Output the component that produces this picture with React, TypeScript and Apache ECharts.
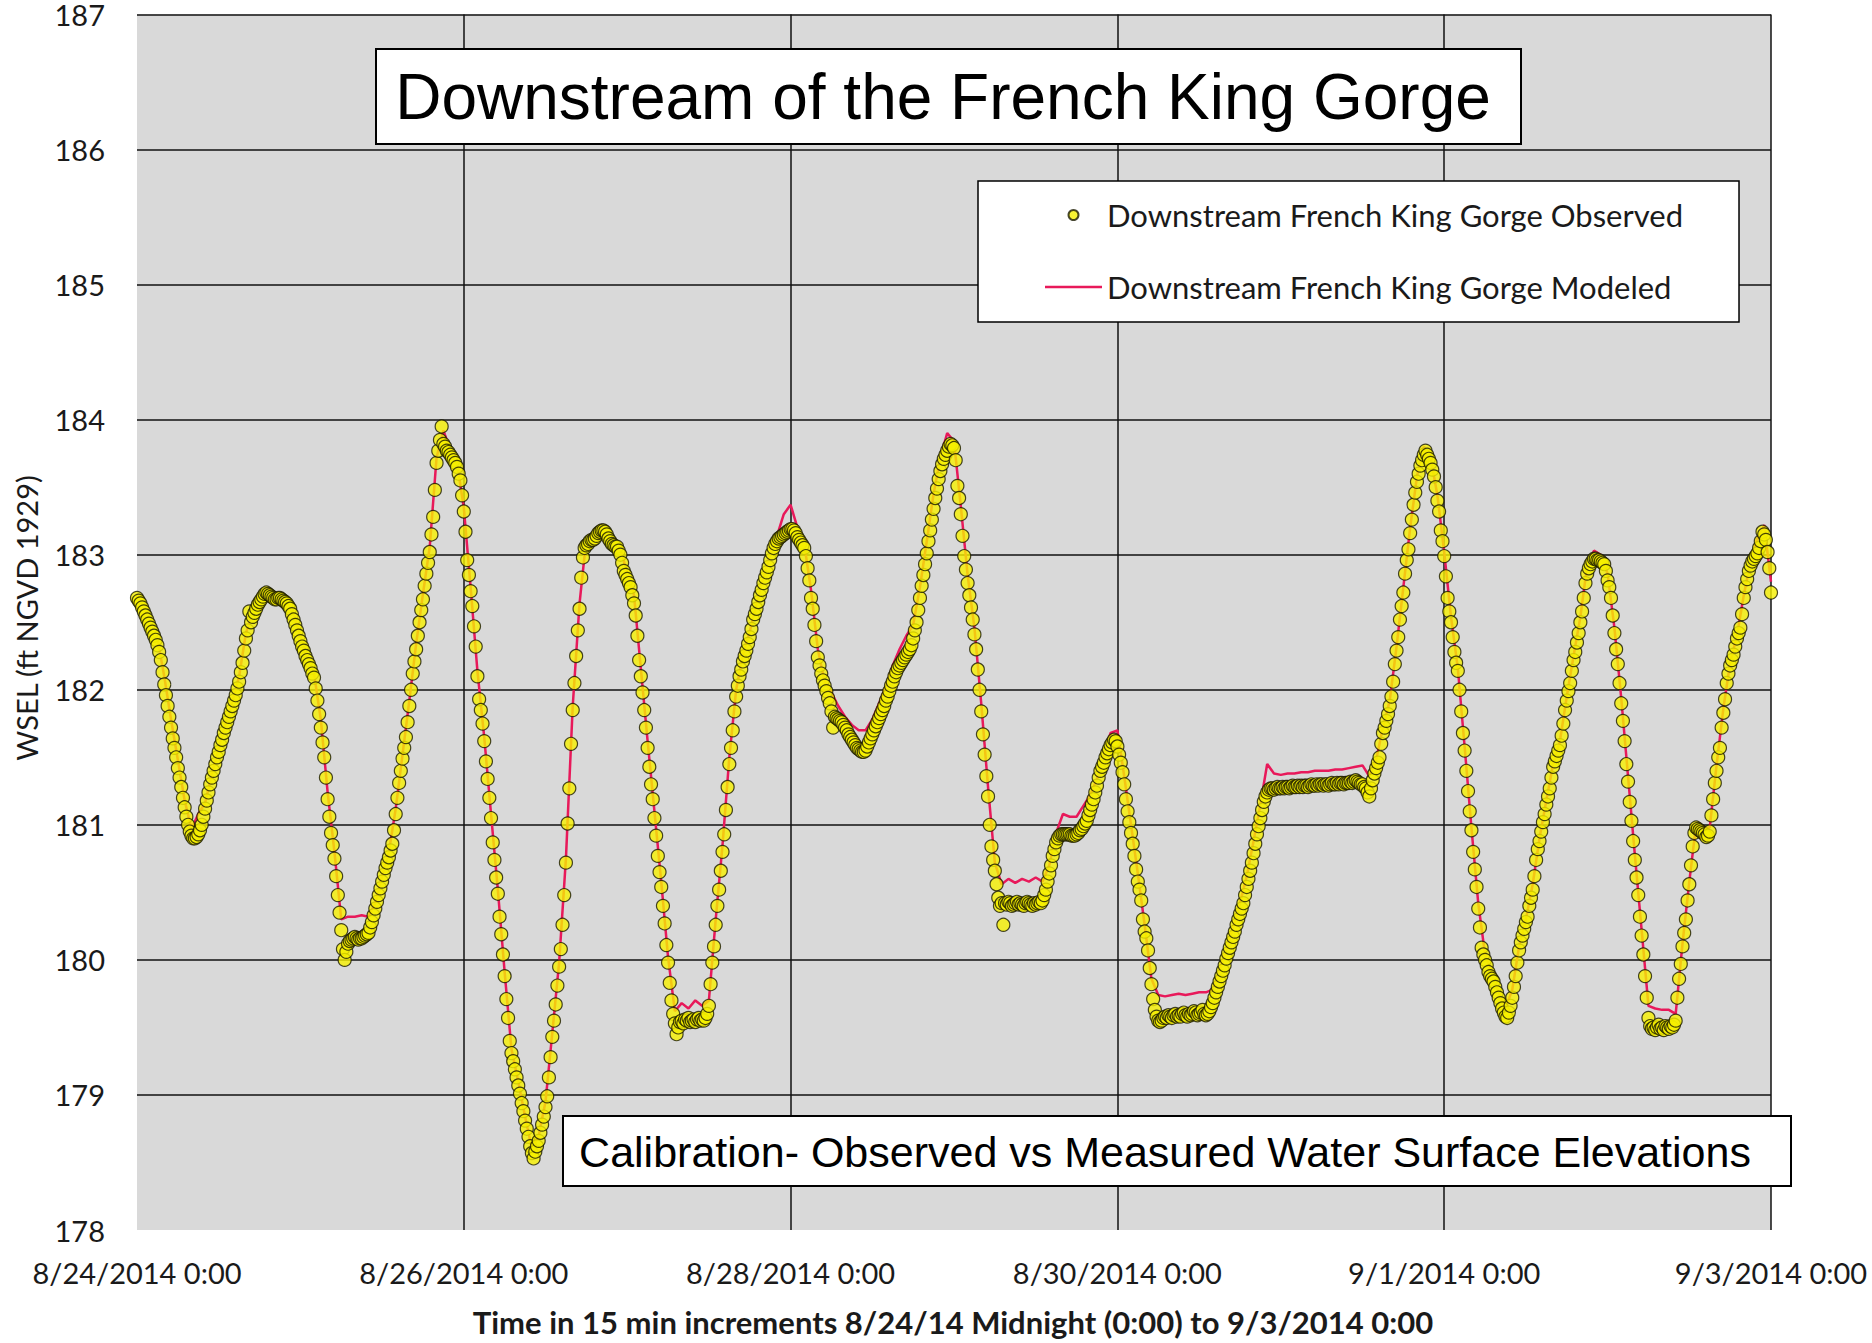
import React, { useEffect, useRef } from "react";
import * as echarts from "echarts";

// Time axis: hours since 8/24/2014 0:00
const OBS_STEP_HOURS = 0.25; // 15-minute observations
const MOD_STEP_HOURS = 1;
const X_MAX_HOURS = 240;
const X_TICK_HOURS = 48;

const xTickLabels = [
  "8/24/2014 0:00",
  "8/26/2014 0:00",
  "8/28/2014 0:00",
  "8/30/2014 0:00",
  "9/1/2014 0:00",
  "9/3/2014 0:00",
];

const chartTitle = "Downstream of the French King Gorge";
const chartSubtitle = "Calibration- Observed vs Measured Water Surface Elevations";
const xAxisTitle = "Time in 15 min increments 8/24/14 Midnight (0:00) to 9/3/2014 0:00";
const yAxisTitle = "WSEL (ft NGVD 1929)";
const observedName = "Downstream French King Gorge Observed";
const modeledName = "Downstream French King Gorge Modeled";

// Observed WSEL every 15 minutes, 8/24 0:00 .. 9/3 0:00 (one row per hour)
const observedWSEL = [
  182.68,182.66,182.64,182.61, 182.58,182.55,182.52,182.49, 182.46,182.43,182.40,182.37, 182.33,182.28,182.22,182.13,
  182.04,181.96,181.88,181.80, 181.72,181.64,181.57,181.50, 181.42,181.35,181.28,181.20, 181.13,181.06,181.00,180.95,
  180.92,180.90,180.90,180.91, 180.93,180.96,181.00,181.06, 181.12,181.18,181.24,181.30, 181.35,181.40,181.45,181.50,
  181.54,181.59,181.63,181.68, 181.72,181.76,181.80,181.84, 181.88,181.92,181.96,182.01, 182.06,182.13,182.20,182.29,
  182.38,182.44,182.58,182.50, 182.54,182.57,182.60,182.63, 182.65,182.67,182.69,182.71, 182.72,182.71,182.70,182.69,
  182.68,182.67,182.67,182.68, 182.68,182.67,182.66,182.65, 182.64,182.62,182.60,182.56, 182.52,182.48,182.44,182.40,
  182.36,182.32,182.29,182.25, 182.22,182.19,182.16,182.12, 182.09,182.01,181.92,181.82, 181.72,181.61,181.50,181.35,
  181.19,181.06,180.94,180.85, 180.75,180.62,180.48,180.35, 180.22,180.08,180.00,180.06, 180.12,180.14,180.15,180.16,
  180.17,180.16,180.15,180.16, 180.16,180.17,180.18,180.19, 180.20,180.24,180.28,180.33, 180.38,180.43,180.48,180.53,
  180.58,180.63,180.68,180.72, 180.76,180.81,180.86,180.96, 181.08,181.20,181.31,181.40, 181.49,181.57,181.65,181.76,
  181.88,182.00,182.12,182.21, 182.30,182.40,182.50,182.59, 182.67,182.77,182.86,182.94, 183.02,183.15,183.28,183.48,
  183.68,183.77,183.85,183.95, 183.82,183.80,183.77,183.76, 183.74,183.72,183.70,183.68, 183.65,183.60,183.55,183.44,
  183.32,183.17,182.96,182.85, 182.73,182.62,182.47,182.32, 182.10,181.93,181.85,181.75, 181.62,181.47,181.34,181.20,
  181.05,180.87,180.74,180.61, 180.49,180.32,180.19,180.04, 179.88,179.71,179.57,179.40, 179.31,179.25,179.19,179.13,
  179.07,179.01,178.94,178.88, 178.81,178.75,178.69,178.62, 178.57,178.53,178.58,178.62, 178.66,178.72,178.78,178.84,
  178.91,178.99,179.13,179.28, 179.43,179.55,179.67,179.81, 179.95,180.08,180.26,180.48, 180.72,181.01,181.27,181.60,
  181.85,182.05,182.25,182.44, 182.60,182.83,182.98,183.05, 183.07,183.08,183.10,183.11, 183.11,183.12,183.14,183.16,
  183.17,183.18,183.18,183.17, 183.15,183.12,183.10,183.08, 183.07,183.06,183.06,183.03, 183.00,182.94,182.88,182.85,
  182.82,182.79,182.76,182.70, 182.64,182.55,182.40,182.22, 182.10,181.98,181.85,181.72, 181.57,181.43,181.30,181.19,
  181.05,180.92,180.77,180.65, 180.54,180.40,180.27,180.11, 179.98,179.83,179.70,179.60, 179.53,179.45,179.50,179.54,
  179.55,179.53,179.56,179.55, 179.57,179.54,179.55,179.56, 179.54,179.56,179.57,179.55, 179.56,179.55,179.57,179.60,
  179.66,179.82,179.98,180.10, 180.26,180.40,180.52,180.66, 180.80,180.93,181.11,181.28, 181.45,181.57,181.70,181.84,
  181.95,182.03,182.10,182.15, 182.21,182.25,182.29,182.34, 182.39,182.45,182.52,182.56, 182.60,182.65,182.70,182.74,
  182.79,182.83,182.87,182.91, 182.96,183.01,183.05,183.08, 183.10,183.12,183.13,183.14, 183.15,183.16,183.17,183.18,
  183.19,183.19,183.18,183.16, 183.13,183.11,183.09,183.07, 183.05,182.99,182.90,182.81, 182.68,182.60,182.48,182.36,
  182.24,182.18,182.12,182.07, 182.03,181.99,181.94,181.90, 181.84,181.72,181.80,181.79, 181.78,181.77,181.76,181.74,
  181.72,181.70,181.67,181.65, 181.63,181.61,181.59,181.57, 181.56,181.55,181.54,181.54, 181.55,181.58,181.61,181.64,
  181.67,181.70,181.73,181.76, 181.79,181.82,181.85,181.88, 181.92,181.95,181.99,182.03, 182.06,182.10,182.13,182.16,
  182.18,182.20,182.22,182.24, 182.26,182.28,182.30,182.33, 182.38,182.44,182.50,182.59, 182.68,182.77,182.85,182.93,
  183.01,183.10,183.18,183.26, 183.34,183.42,183.49,183.56, 183.62,183.67,183.71,183.74, 183.77,183.80,183.82,183.81,
  183.79,183.70,183.51,183.42, 183.30,183.14,182.99,182.89, 182.79,182.70,182.61,182.52, 182.41,182.30,182.15,182.00,
  181.84,181.67,181.52,181.36, 181.21,181.00,180.84,180.74, 180.66,180.56,180.46,180.40, 180.42,180.26,180.42,180.41,
  180.43,180.42,180.40,180.41, 180.42,180.43,180.41,180.42, 180.41,180.40,180.42,180.43, 180.42,180.41,180.40,180.42,
  180.41,180.42,180.43,180.42, 180.44,180.48,180.52,180.58, 180.64,180.70,180.77,180.82, 180.87,180.90,180.92,180.93,
  180.93,180.93,180.93,180.93, 180.93,180.92,180.92,180.92, 180.93,180.94,180.96,180.97, 180.99,181.01,181.03,181.07,
  181.11,181.15,181.19,181.24, 181.29,181.35,181.40,181.43, 181.46,181.50,181.53,181.56, 181.59,181.61,181.63,181.62,
  181.58,181.52,181.46,181.39, 181.30,181.19,181.10,181.02, 180.94,180.86,180.77,180.67, 180.58,180.52,180.44,180.30,
  180.21,180.16,180.07,179.94, 179.82,179.71,179.63,179.58, 179.55,179.54,179.55,179.57, 179.58,179.57,179.59,179.58,
  179.57,179.59,179.60,179.58, 179.59,179.58,179.60,179.61, 179.59,179.58,179.60,179.59, 179.60,179.62,179.61,179.59,
  179.60,179.61,179.63,179.60, 179.59,179.60,179.62,179.65, 179.68,179.72,179.76,179.80, 179.84,179.88,179.92,179.96,
  180.01,180.05,180.09,180.13, 180.17,180.21,180.26,180.30, 180.34,180.38,180.42,180.48, 180.54,180.60,180.66,180.72,
  180.79,180.86,180.93,180.99, 181.05,181.11,181.17,181.21, 181.24,181.26,181.27,181.27, 181.26,181.27,181.28,181.27,
  181.27,181.28,181.27,181.28, 181.28,181.27,181.28,181.29, 181.28,181.28,181.29,181.28, 181.29,181.28,181.29,181.29,
  181.28,181.29,181.30,181.29, 181.29,181.30,181.29,181.30, 181.30,181.29,181.30,181.30, 181.29,181.30,181.31,181.30,
  181.30,181.31,181.30,181.31, 181.31,181.30,181.31,181.31, 181.31,181.32,181.31,181.32, 181.33,181.32,181.31,181.30,
  181.30,181.28,181.27,181.24, 181.21,181.27,181.33,181.38, 181.42,181.46,181.50,181.60, 181.68,181.72,181.77,181.82,
  181.88,181.95,182.06,182.19, 182.29,182.39,182.52,182.62, 182.72,182.86,182.96,183.04, 183.16,183.26,183.37,183.46,
  183.54,183.60,183.66,183.70, 183.74,183.77,183.74,183.71, 183.68,183.63,183.58,183.50, 183.40,183.32,183.18,183.10,
  182.99,182.84,182.68,182.58, 182.50,182.39,182.28,182.20, 182.14,182.00,181.84,181.68, 181.55,181.40,181.25,181.10,
  180.96,180.80,180.67,180.54, 180.38,180.24,180.09,180.04, 180.00,179.96,179.91,179.88, 179.86,179.84,179.80,179.76,
  179.72,179.68,179.64,179.61, 179.58,179.57,179.61,179.66, 179.72,179.80,179.88,179.98, 180.07,180.13,180.18,180.23,
  180.28,180.32,180.40,180.46, 180.52,180.62,180.74,180.82, 180.88,180.95,181.02,181.08, 181.15,181.21,181.27,181.35,
  181.43,181.47,181.51,181.55, 181.59,181.66,181.75,181.85, 181.92,181.99,182.05,182.14, 182.22,182.28,182.35,182.42,
  182.50,182.58,182.68,182.79, 182.86,182.90,182.93,182.95, 182.97,182.97,182.96,182.96, 182.95,182.94,182.93,182.88,
  182.81,182.76,182.68,182.55, 182.42,182.30,182.19,182.05, 181.90,181.77,181.62,181.45, 181.32,181.17,181.03,180.88,
  180.74,180.61,180.48,180.32, 180.18,180.04,179.88,179.72, 179.57,179.51,179.49,179.50, 179.48,179.50,179.52,179.49,
  179.50,179.48,179.51,179.50, 179.49,179.51,179.50,179.52, 179.55,179.72,179.86,179.97, 180.10,180.20,180.30,180.44,
  180.56,180.70,180.84,180.94, 180.98,180.97,180.96,180.95, 180.94,180.93,180.91,180.92, 180.95,181.07,181.19,181.31,
  181.40,181.50,181.57,181.72, 181.83,181.93,182.05,182.12, 182.18,182.22,182.26,182.32, 182.38,182.42,182.46,182.56,
  182.68,182.76,182.82,182.88, 182.92,182.95,182.97,182.99, 183.01,183.05,183.10,183.17, 183.15,183.11,183.02,182.90,
  182.72,
];

// Modeled WSEL, hourly, 8/24 0:00 .. 9/3 0:00
const modeledWSEL = [
  182.70,182.60,182.50,182.38,182.10,181.78,181.48,181.18,180.97,181.08,
  181.16,181.38,181.57,181.75,181.91,182.10,182.42,182.58,182.70,182.75,
  182.71,182.70,182.67,182.56,182.40,182.25,182.12,181.78,181.24,180.80,
  180.30,180.32,180.32,180.33,180.32,180.42,180.62,180.80,181.12,181.52,
  181.92,182.34,182.71,183.06,183.72,183.92,183.78,183.68,183.35,182.76,
  182.14,181.65,181.08,180.52,179.91,179.34,179.10,178.84,178.60,178.70,
  178.95,179.46,179.98,180.75,181.88,182.64,183.12,183.14,183.19,183.18,
  183.10,183.04,182.87,182.70,182.16,181.62,181.10,180.58,180.02,179.62,
  179.68,179.64,179.70,179.66,179.70,180.30,180.85,181.50,182.00,182.26,
  182.43,182.64,182.83,183.00,183.14,183.30,183.37,183.20,183.08,182.74,
  182.30,182.06,181.98,181.88,181.80,181.74,181.70,181.70,181.78,181.90,
  182.02,182.18,182.30,182.40,182.48,182.76,183.10,183.45,183.72,183.90,
  183.84,183.36,182.85,182.46,181.90,181.28,180.72,180.56,180.60,180.57,
  180.60,180.58,180.61,180.58,180.70,180.94,181.08,181.06,181.06,181.14,
  181.22,181.34,181.52,181.68,181.70,181.36,181.00,180.64,180.26,179.86,
  179.74,179.73,179.74,179.75,179.74,179.75,179.76,179.76,179.78,179.92,
  180.08,180.24,180.42,180.62,180.88,181.15,181.45,181.38,181.37,181.38,
  181.38,181.39,181.39,181.40,181.40,181.40,181.41,181.41,181.42,181.43,
  181.44,181.36,181.48,181.72,181.92,182.32,182.76,183.20,183.58,183.80,
  183.72,183.44,183.02,182.54,182.16,181.58,180.98,180.42,180.04,179.90,
  179.76,179.64,179.78,180.10,180.30,180.56,180.90,181.18,181.45,181.62,
  181.95,182.25,182.54,182.92,183.03,183.00,182.86,182.46,181.94,181.36,
  180.78,180.22,179.66,179.64,179.63,179.63,179.60,180.12,180.58,181.00,
  180.97,180.98,181.44,181.86,182.20,182.40,182.70,182.95,183.12,183.22,
  182.80,
];

const Y_MIN = 178;
const Y_MAX = 187;
const Y_STEP = 1;

export default function App() {
  const ref = useRef<HTMLDivElement>(null);

  useEffect(() => {
    if (!ref.current) return;
    const chart = echarts.init(ref.current, undefined, { renderer: "svg" });

    const obsData = observedWSEL.map((v, i) => [i * OBS_STEP_HOURS, v]);
    const modData = modeledWSEL.map((v, i) => [i * MOD_STEP_HOURS, v]);

    const labelFont = "Lato";

    chart.setOption({
      animation: false,
      backgroundColor: "#ffffff",
      grid: {
        left: 137,
        top: 10,
        width: 1634,
        height: 1220,
        show: true,
        backgroundColor: "#d9d9d9",
        borderWidth: 0,
        containLabel: false,
      },
      xAxis: {
        type: "value",
        min: 0,
        max: X_MAX_HOURS,
        interval: X_TICK_HOURS,
        axisLine: { show: false },
        axisTick: { show: false },
        axisLabel: {
          margin: 28,
          fontFamily: labelFont,
          fontSize: 29,
          color: "#1a1a1a",
          formatter: (v: number) => xTickLabels[Math.round(v / X_TICK_HOURS)] ?? "",
        },
        splitLine: {
          show: true,
          showMinLine: false,
          showMaxLine: true,
          lineStyle: { color: "#111111", width: 1.5 },
        },
      },
      yAxis: {
        type: "value",
        min: Y_MIN,
        max: Y_MAX,
        interval: Y_STEP,
        axisLine: { show: false },
        axisTick: { show: false },
        axisLabel: {
          margin: 32,
          fontFamily: labelFont,
          fontSize: 29,
          color: "#1a1a1a",
        },
        splitLine: {
          show: true,
          showMinLine: false,
          showMaxLine: true,
          lineStyle: { color: "#111111", width: 1.5 },
        },
      },
      legend: {
        orient: "vertical",
        left: 978,
        top: 181,
        padding: [16, 56, 17, 67],
        backgroundColor: "#ffffff",
        borderColor: "#000000",
        borderWidth: 1.5,
        itemWidth: 57,
        itemHeight: 10,
        itemGap: 36,
        textStyle: {
          fontFamily: labelFont,
          fontSize: 31,
          lineHeight: 36,
          color: "#1a1a1a",
        },
        data: [
          { name: observedName, icon: "circle" },
          { name: modeledName, icon: "path://M0,0H57V2.5H0Z" },
        ],
      },
      series: [
        {
          name: modeledName,
          type: "line",
          data: modData,
          symbol: "none",
          showSymbol: false,
          lineStyle: { color: "#e8195a", width: 2.5 },
          itemStyle: { color: "#e8195a" },
          z: 2,
        },
        {
          name: observedName,
          type: "scatter",
          data: obsData,
          symbol: "circle",
          symbolSize: 13,
          itemStyle: { color: "#f6f000", borderColor: "#1a1a00", borderWidth: 1.2 },
          z: 3,
        },
      ],
      graphic: [
        {
          type: "rect",
          z: 100,
          shape: { x: 376, y: 49, width: 1145, height: 95 },
          style: { fill: "#ffffff", stroke: "#000000", lineWidth: 2 },
        },
        {
          type: "text",
          z: 101,
          x: 943,
          y: 97,
          style: {
            text: chartTitle,
            fontFamily: "Liberation Sans",
            fontSize: 64,
            fill: "#000000",
            align: "center",
            verticalAlign: "middle",
          },
        },
        {
          type: "rect",
          z: 100,
          shape: { x: 563, y: 1116, width: 1228, height: 70 },
          style: { fill: "#ffffff", stroke: "#000000", lineWidth: 2 },
        },
        {
          type: "text",
          z: 101,
          x: 1165,
          y: 1152,
          style: {
            text: chartSubtitle,
            fontFamily: "Liberation Sans",
            fontSize: 43,
            fill: "#000000",
            align: "center",
            verticalAlign: "middle",
          },
        },
        {
          type: "text",
          z: 101,
          x: 953,
          y: 1322,
          style: {
            text: xAxisTitle,
            fontFamily: labelFont,
            fontWeight: "bold",
            fontSize: 31,
            fill: "#1a1a1a",
            align: "center",
            verticalAlign: "middle",
          },
        },
        {
          type: "text",
          z: 101,
          x: 26,
          y: 618,
          rotation: Math.PI / 2,
          style: {
            text: yAxisTitle,
            fontFamily: labelFont,
            fontSize: 29,
            fill: "#1a1a1a",
            align: "center",
            verticalAlign: "middle",
          },
        },
      ],
    });

    return () => chart.dispose();
  }, []);

  return (
    <div
      ref={ref}
      style={{ position: "fixed", left: 0, top: 0, width: 1872, height: 1343, background: "#fff" }}
    />
  );
}
